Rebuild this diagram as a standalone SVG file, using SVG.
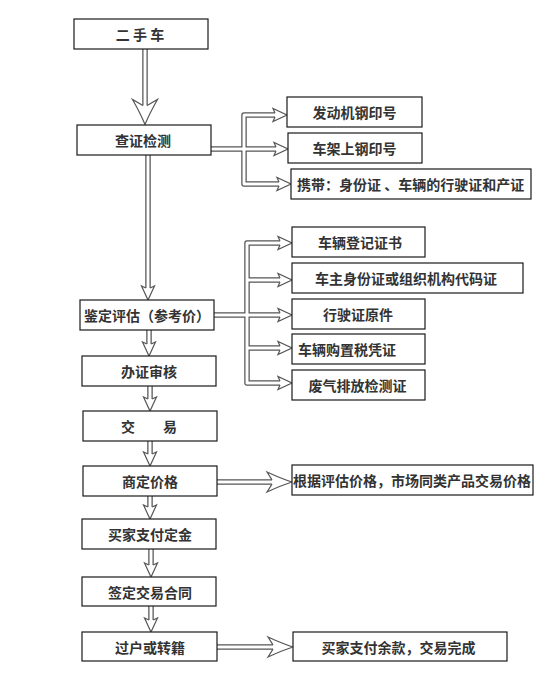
<svg xmlns="http://www.w3.org/2000/svg" xmlns:xlink="http://www.w3.org/1999/xlink" width="550" height="700" viewBox="0 0 550 700">
<style>
.box{fill:#fff;stroke:#1a1a1a;stroke-width:1.2}
.t{font-family:"Noto Sans CJK SC","Noto Sans",sans-serif;font-size:14px;font-weight:700;fill:#333;dominant-baseline:central}
.c{text-anchor:middle}
.o{fill:none;stroke:#555;stroke-width:5.5;stroke-linejoin:round}
.i{fill:none;stroke:#fff;stroke-width:3;stroke-linejoin:round}
.h{fill:#fff;stroke:#555;stroke-width:1.2;stroke-linejoin:miter}
</style>
<defs>
<path id="hs" d="M-12,-2.1 L-14,-6.5 L0,0 L-14,6.5 L-12,2.1"/>
<path id="hbv" d="M-19,-2.1 L-25,-12.5 Q-11,-4.5 0,0 Q-11,4.5 -25,12.5 L-19,2.1"/>
<path id="hbh" d="M-20,-2.1 L-25,-10 Q-11,-3.5 0,0 Q-11,3.5 -25,10 L-20,2.1"/>
<path id="p1" d="M145,49 V112"/>
<path id="p2" d="M148,155 V292"/>
<path id="p3" d="M149,330 V348"/>
<path id="p4" d="M150,386 V403"/>
<path id="p5" d="M150,441 V458"/>
<path id="p6" d="M150,496 V511"/>
<path id="p7" d="M151,549 V569"/>
<path id="p8" d="M151,606 V624"/>
<path id="p9" d="M217,482 H280"/>
<path id="p10" d="M217,647 H281"/>
<path id="a1" d="M279,115 H244 V184 H283"/>
<path id="a2" d="M211,149 H280"/>
<path id="b1" d="M214,315 H284"/>
<path id="b2" d="M284,243 H247 V383 H284"/>
<path id="b3" d="M247,280 H284"/>
<path id="b4" d="M247,348 H284"/>
</defs>

<g id="connectors">
<use href="#p1" class="o"/><use href="#p2" class="o"/><use href="#p3" class="o"/><use href="#p4" class="o"/><use href="#p5" class="o"/><use href="#p6" class="o"/><use href="#p7" class="o"/><use href="#p8" class="o"/><use href="#p9" class="o"/><use href="#p10" class="o"/>
<use href="#a1" class="o"/><use href="#a2" class="o"/><use href="#b1" class="o"/><use href="#b2" class="o"/><use href="#b3" class="o"/><use href="#b4" class="o"/>
<use href="#p1" class="i"/><use href="#p2" class="i"/><use href="#p3" class="i"/><use href="#p4" class="i"/><use href="#p5" class="i"/><use href="#p6" class="i"/><use href="#p7" class="i"/><use href="#p8" class="i"/><use href="#p9" class="i"/><use href="#p10" class="i"/>
<use href="#a1" class="i"/><use href="#a2" class="i"/><use href="#b1" class="i"/><use href="#b2" class="i"/><use href="#b3" class="i"/><use href="#b4" class="i"/>
<use href="#hbv" class="h" transform="translate(145,124.5) rotate(90)"/>
<use href="#hs" class="h" transform="translate(148,300) rotate(90)"/>
<use href="#hs" class="h" transform="translate(149,356) rotate(90)"/>
<use href="#hs" class="h" transform="translate(150,411) rotate(90)"/>
<use href="#hs" class="h" transform="translate(150,466) rotate(90)"/>
<use href="#hs" class="h" transform="translate(150,519) rotate(90)"/>
<use href="#hs" class="h" transform="translate(151,577) rotate(90)"/>
<use href="#hs" class="h" transform="translate(151,632) rotate(90)"/>
<use href="#hbh" class="h" transform="translate(292,482)"/>
<use href="#hbh" class="h" transform="translate(293,647)"/>
<use href="#hs" class="h" transform="translate(287,115)"/>
<use href="#hs" class="h" transform="translate(288,149)"/>
<use href="#hs" class="h" transform="translate(291,184)"/>
<use href="#hs" class="h" transform="translate(292,243)"/>
<use href="#hs" class="h" transform="translate(292,280)"/>
<use href="#hs" class="h" transform="translate(292,315)"/>
<use href="#hs" class="h" transform="translate(292,348)"/>
<use href="#hs" class="h" transform="translate(292,383)"/>
</g>

<g id="n1"><rect class="box" x="74" y="19" width="134" height="30"/><text class="t c" x="140" y="34" xml:space="preserve">二 手 车</text></g>
<g id="n2"><rect class="box" x="77" y="125" width="134" height="30"/><text class="t c" x="143" y="140">查证检测</text></g>
<g id="n3"><rect class="box" x="80" y="300" width="134" height="30"/><text class="t c" x="147" y="315">鉴定评估（参考价）</text></g>
<g id="n4"><rect class="box" x="82" y="356" width="134" height="30"/><text class="t c" x="149" y="371">办证审核</text></g>
<g id="n5"><rect class="box" x="83" y="411" width="134" height="30"/><text class="t c" x="149" y="426">交　　易</text></g>
<g id="n6"><rect class="box" x="83" y="466" width="134" height="30"/><text class="t c" x="150" y="481">商定价格</text></g>
<g id="n7"><rect class="box" x="82" y="519" width="134" height="30"/><text class="t c" x="150" y="534">买家支付定金</text></g>
<g id="n8"><rect class="box" x="82" y="577" width="134" height="29"/><text class="t c" x="150" y="591.5">签定交易合同</text></g>
<g id="n9"><rect class="box" x="82" y="632" width="135" height="29"/><text class="t c" x="150" y="646.5">过户或转籍</text></g>

<g id="r1"><rect class="box" x="287" y="97" width="135" height="30"/><text class="t c" x="354.5" y="112">发动机钢印号</text></g>
<g id="r2"><rect class="box" x="288" y="133" width="134" height="30"/><text class="t c" x="354.5" y="148">车架上钢印号</text></g>
<g id="r3"><rect class="box" x="291" y="169" width="240" height="30"/><text class="t" x="297" y="184" xml:space="preserve">携带：身份证 、车辆的行驶证和产证</text></g>
<g id="r4"><rect class="box" x="292" y="227" width="133" height="30"/><text class="t c" x="360" y="242">车辆登记证书</text></g>
<g id="r5"><rect class="box" x="292" y="263" width="231" height="30"/><text class="t c" x="406" y="278">车主身份证或组织机构代码证</text></g>
<g id="r6"><rect class="box" x="292" y="299" width="133" height="30"/><text class="t c" x="358" y="314">行驶证原件</text></g>
<g id="r7"><rect class="box" x="292" y="334" width="133" height="30"/><text class="t" x="298" y="349">车辆购置税凭证</text></g>
<g id="r8"><rect class="box" x="292" y="370" width="133" height="30"/><text class="t c" x="357.5" y="385">废气排放检测证</text></g>
<g id="r9"><rect class="box" x="292" y="465" width="241" height="30"/><text class="t" x="293" y="480">根据评估价格，市场同类产品交易价格</text></g>
<g id="r10"><rect class="box" x="293" y="632" width="214" height="29"/><text class="t c" x="398.5" y="646.5">买家支付余款，交易完成</text></g>
</svg>
